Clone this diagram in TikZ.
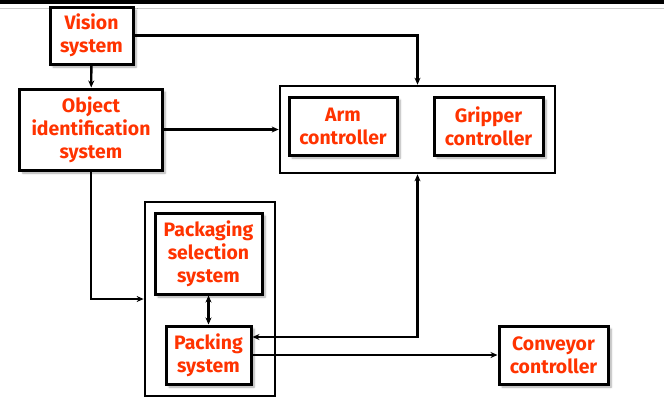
\documentclass[tikz,border=0pt]{standalone}
\usepackage{fontspec}
\setmainfont{Fira Sans}
\usetikzlibrary{arrows.meta,shadows.blur}
\definecolor{labelred}{RGB}{255,51,0}

\begin{document}
\begin{tikzpicture}[x=1bp, y=-1bp, line width=2.4bp,
    box/.style={draw, line width=3bp, fill=white, align=center, inner sep=0pt,
      text=labelred, font=\fontsize{19.5}{23}\selectfont\bfseries,
      blur shadow={shadow xshift=3bp, shadow yshift=-3bp, shadow blur steps=6, shadow opacity=35}},
    group/.style={draw, line width=2.7bp, inner sep=0pt},
    >={Stealth[length=7bp, width=6bp]}]
    \useasboundingbox (0,0) rectangle (664,416);
    \fill[black] (0,0) rectangle (664,4);
    \draw[gray!40, line width=1bp] (0,8) -- (664,8);
    % Nodes
    \node[group, minimum width=275bp, minimum height=87bp] (C) at (417.5,129.5) {};
    \node[group, minimum width=130bp, minimum height=194bp] (P) at (210,299) {};
    \node[box, minimum width=83bp, minimum height=57bp] (V) at (91.5,35.5) {Vision\\system};
    \node[box, minimum width=142bp, minimum height=81bp] (O) at (91,129.5) {Object\\identification\\system};
    \node[box, minimum width=108bp, minimum height=58bp] (A) at (343,126) {Arm\\controller};
    \node[box, minimum width=109bp, minimum height=58bp] (G) at (488.5,126) {Gripper\\controller};
    \node[box, minimum width=107bp, minimum height=81bp] (S) at (208.5,253.5) {Packaging\\selection\\system};
    \node[box, minimum width=85bp, minimum height=58bp] (K) at (208.5,355) {Packing\\system};
    \node[box, minimum width=109bp, minimum height=58bp] (Y) at (553.5,355) {Conveyor\\controller};
    % Connectors
    \draw[->] (V) -- (O);
    \draw[->] (V.east) -| (C.north);
    \draw[->] (O) -- (C);
    \draw[->] (O.south) |- (P.west);
    \draw[<->] (S) -- (K);
    \draw[<->] ([yshift=18bp]K.east) -| (C.south);
    \draw[->] (K.east) -- (Y.west);
\end{tikzpicture}
\end{document}
